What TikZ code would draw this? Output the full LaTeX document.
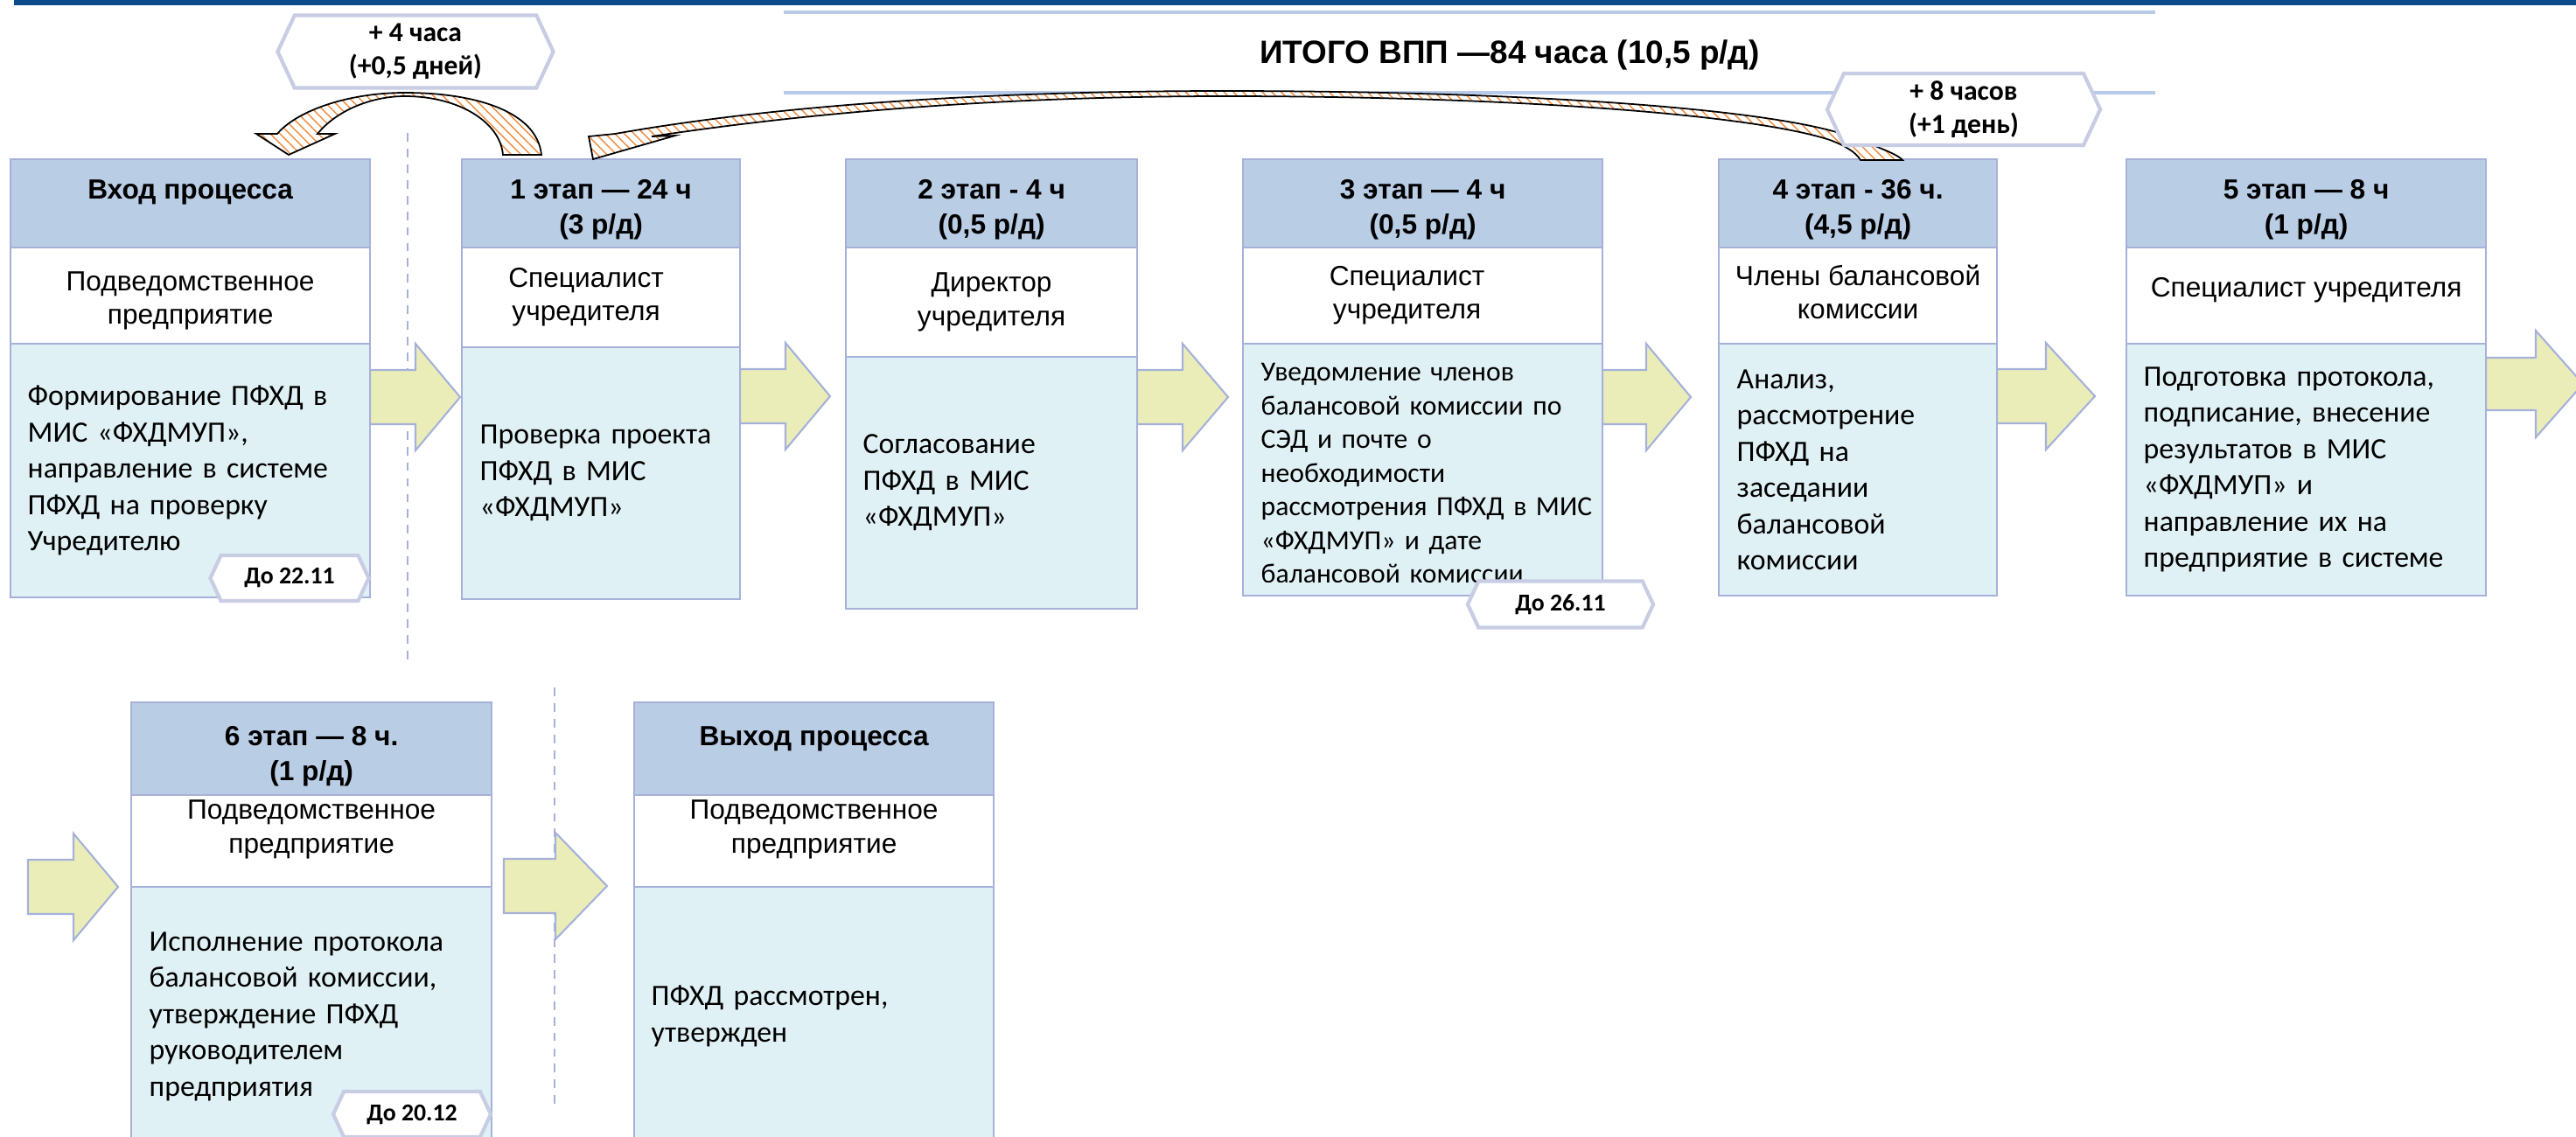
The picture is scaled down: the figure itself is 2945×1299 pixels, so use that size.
\documentclass[tikz,border=0pt]{standalone}
\usepackage{fontspec}
\setmainfont{Liberation Sans}
\newfontfamily\calibri{Carlito}
\usetikzlibrary{positioning}
\usetikzlibrary{shapes.symbols}
\usetikzlibrary{patterns.meta}

\begin{document}
\begin{tikzpicture}[x=0.01cm, y=-0.01cm]
    \definecolor{kopfblau}{HTML}{B9CDE5}
    \definecolor{rahmen}{HTML}{A6B1D9}
    \definecolor{inhaltblau}{HTML}{E0F1F6}
    \definecolor{pfeilgelb}{HTML}{EBEDB9}
    \definecolor{fristrand}{HTML}{C9CDE4}
    \definecolor{balken}{HTML}{0B4A8B}
    \definecolor{linienblau}{HTML}{B7CAE9}
    \definecolor{schraffur}{HTML}{F08A3C}
    \tikzset{
      feld/.style={draw=rahmen, line width=0.6pt, inner sep=0pt, outer sep=0pt, anchor=north west},
      kopftext/.style={font=\bfseries\fontsize{9}{11.4}\selectfont, align=center, inner sep=0pt},
      rollentext/.style={font=\fontsize{9}{10.9}\selectfont, align=center, inner sep=0pt},
      aufgabe/.style={font=\calibri\fontsize{9.6}{11.8}\selectfont, align=left, inner sep=0pt, text width=3.9cm},
      blockpfeil/.style={draw=rahmen, fill=pfeilgelb, line width=0.6pt},
      frist/.style={shape=signal, signal to=east and west, signal pointer angle=130, draw=fristrand,
        line width=1.2pt, fill=white, inner sep=0pt, align=center, font=\calibri\bfseries\fontsize{7.9}{9.5}\selectfont},
      zeit/.style={frist, font=\calibri\bfseries\fontsize{9}{10.8}\selectfont},
      bogen/.style={draw=black, line width=0.5pt, preaction={fill=white},
        pattern={Lines[angle=-45,distance=2.2pt,line width=0.4pt]}, pattern color=schraffur},
      trennlinie/.style={draw=rahmen, line width=0.6pt, dash pattern=on 2.8pt off 2.3pt}
    }
    \useasboundingbox (0,0) rectangle (2945,1299);

    \fill[balken] (16,0) rectangle (2945,6);  %Balken oben
    \draw[linienblau, line width=0.9pt] (896,14) -- (2464,14);  %Linie ueber Titel
    \draw[linienblau, line width=0.9pt] (896,106) -- (2464,106);  %Linie unter Titel
    \node[font=\bfseries\fontsize{10.5}{12}\selectfont, inner sep=0pt] (titel) at (1726,63) {ИТОГО ВПП —84 часа (10,5 р/д)};

    \draw[trennlinie] (466,152) -- (466,755);  %Trennlinie oben
    \draw[trennlinie] (634,786) -- (634,1270);  %Trennlinie unten

    \foreach \xa/\xb/\xc/\ym/\sa/\ka in  %Blockpfeile
    {
      423/475/526/454/31/61,
      846/898/949/453/31/61,
      1300/1352/1404/454/31/61,
      1832/1882/1933/454/31/61,
      2283/2339/2395/453/31/61,
      2842/2899/2953/439/30/61,
      32/84/135/1014/31/61,
      576/635/694/1013/31/61
    }
    {
      \draw[blockpfeil] (\xa,\ym-\sa) -- (\xb,\ym-\sa) -- (\xb,\ym-\ka) -- (\xc,\ym)
        -- (\xb,\ym+\ka) -- (\xb,\ym+\sa) -- (\xa,\ym+\sa) -- cycle;
    };

    \foreach \i/\xl/\xr/\yo/\yk/\yr/\yu in  %Kaesten: Kopf, Rolle, Inhalt
    {
      0/12/423/182/283/393/683,
      1/528/846/182/283/397/685,
      2/967/1300/182/283/408/696,
      3/1421/1832/182/283/393/681,
      4/1965/2283/182/283/393/681,
      5/2431/2842/182/283/393/681,
      6/150/562/803/909/1014/1310,
      7/725/1136/803/909/1014/1310
    }
    {
      \pgfmathsetmacro\breite{(\xr-\xl)/100}
      \pgfmathsetmacro\hk{(\yk-\yo)/100}
      \pgfmathsetmacro\hr{(\yr-\yk)/100}
      \pgfmathsetmacro\hu{(\yu-\yr)/100}
      \node[feld, fill=kopfblau, minimum width=\breite cm, minimum height=\hk cm] (kopf\i) at (\xl,\yo) {};
      \node[feld, fill=white, minimum width=\breite cm, minimum height=\hr cm] (rolle\i) at (\xl,\yk) {};
      \node[feld, fill=inhaltblau, minimum width=\breite cm, minimum height=\hu cm] (inhalt\i) at (\xl,\yr) {};
    };

    % Kopfzeilen
    \node[kopftext, below=0.23cm of kopf0.north] (k0) {Вход процесса};
    \node[kopftext, below=0.23cm of kopf1.north] (k1) {1 этап — 24 ч\\(3 р/д)};
    \node[kopftext, below=0.23cm of kopf2.north] (k2) {2 этап - 4 ч\\(0,5 р/д)};
    \node[kopftext, below=0.23cm of kopf3.north] (k3) {3 этап — 4 ч\\(0,5 р/д)};
    \node[kopftext, below=0.23cm of kopf4.north] (k4) {4 этап - 36 ч.\\(4,5 р/д)};
    \node[kopftext, below=0.23cm of kopf5.north] (k5) {5 этап — 8 ч\\(1 р/д)};
    \node[kopftext, below=0.27cm of kopf6.north] (k6) {6 этап — 8 ч.\\(1 р/д)};
    \node[kopftext, below=0.27cm of kopf7.north] (k7) {Выход процесса};

    % Rollen
    \node[rollentext, yshift=-0.06cm] (r0) at (rolle0) {Подведомственное\\предприятие};
    \node[rollentext, xshift=-0.17cm] (r1) at (rolle1) {Специалист\\учредителя};
    \node[rollentext] (r2) at (rolle2) {Директор\\учредителя};
    \node[rollentext, xshift=-0.18cm] (r3) at (rolle3) {Специалист\\учредителя};
    \node[rollentext, yshift=0.04cm] (r4) at (rolle4) {Члены балансовой\\комиссии};
    \node[rollentext, yshift=0.06cm] (r5) at (rolle5) {Специалист учредителя};
    \node[rollentext, yshift=0.13cm] (r6) at (rolle6) {Подведомственное\\предприятие};
    \node[rollentext, yshift=0.13cm] (r7) at (rolle7) {Подведомственное\\предприятие};

    % Inhalte
    \node[aufgabe, right=0.19cm of inhalt0.west] (a0) {Формирование ПФХД в\\МИС «ФХДМУП»,\\направление в системе\\ПФХД на проверку\\Учредителю};
    \node[aufgabe, right=0.2cm of inhalt1.west] (a1) {Проверка проекта\\ПФХД в МИС\\«ФХДМУП»};
    \node[aufgabe, right=0.19cm of inhalt2.west] (a2) {Согласование\\ПФХД в МИС\\«ФХДМУП»};
    \begin{scope}
      \clip (1421,393) rectangle (1832,665);  %letzte Zeile abgeschnitten
      \node[aufgabe, right=0.2cm of inhalt3.west, yshift=-0.04cm, font=\calibri\fontsize{9}{10.95}\selectfont] (a3) {Уведомление членов\\балансовой комиссии по\\СЭД и почте о\\необходимости\\рассмотрения ПФХД в МИС\\«ФХДМУП» и дате\\балансовой комиссии};
    \end{scope}
    \node[aufgabe, right=0.2cm of inhalt4.west] (a4) {Анализ,\\рассмотрение\\ПФХД на\\заседании\\балансовой\\комиссии};
    \node[aufgabe, right=0.19cm of inhalt5.west] (a5) {Подготовка протокола,\\подписание, внесение\\результатов в МИС\\«ФХДМУП» и\\направление их на\\предприятие в системе};
    \node[aufgabe, right=0.2cm of inhalt6.west] (a6) {Исполнение протокола\\балансовой комиссии,\\утверждение ПФХД\\руководителем\\предприятия};
    \node[aufgabe, right=0.19cm of inhalt7.west] (a7) {ПФХД рассмотрен,\\утвержден};

    % Rueckspruenge
    \draw[bogen] (619,177) .. controls (614,128) and (545,106) .. (463,106)
      .. controls (395,106) and (338,128) .. (317,153) -- (293,153) -- (330,177) -- (383,153) -- (363,153)
      .. controls (385,126) and (425,110) .. (463,110) .. controls (525,110) and (572,140) .. (575,177) -- cycle;
    \draw[bogen] (673,156) -- (703,153) .. controls (900,118) and (1150,104) .. (1400,104)
      .. controls (1750,104) and (2040,125) .. (2120,158) .. controls (2152,170) and (2170,177) .. (2175,183)
      -- (2127,183) .. controls (2122,174) and (2108,166) .. (2092,160)
      .. controls (2000,130) and (1720,110) .. (1400,110) .. controls (1150,110) and (930,128) .. (745,156)
      -- (772,155) -- (678,182) -- cycle;

    \node[zeit, minimum width=3.15cm, minimum height=0.83cm] (zeit1) at (475,59) {+ 4 часа\\(+0,5 дней)};
    \node[zeit, minimum width=3.12cm, minimum height=0.82cm] (zeit2) at (2245,125) {+ 8 часов\\(+1 день)};
    \node[frist, minimum width=1.81cm, minimum height=0.52cm] (frist1) at (331,661) {До 22.11};
    \node[frist, minimum width=2.12cm, minimum height=0.53cm] (frist2) at (1784,691) {До 26.11};
    \node[frist, minimum width=1.80cm, minimum height=0.52cm] (frist3) at (471,1274) {До 20.12};
  \end{tikzpicture}
\end{document}
